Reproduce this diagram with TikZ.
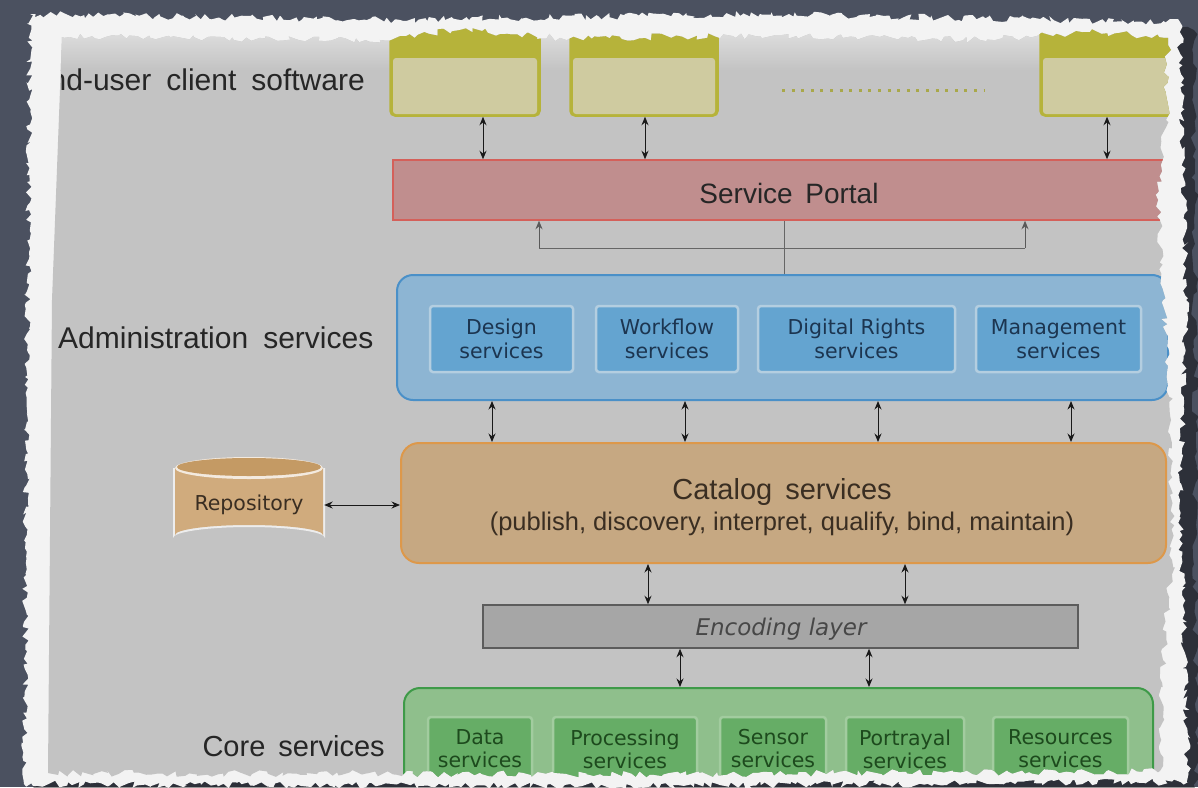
\documentclass[tikz,border=0pt]{standalone}
\usepackage{fontspec}
\setmainfont{Liberation Sans}
\newfontfamily\dvs{DejaVu Sans}
\usetikzlibrary{arrows.meta,decorations.pathmorphing}
\definecolor{bgdark}{HTML}{4B5160}
\definecolor{paperwhite}{HTML}{F3F3F3}
\definecolor{page}{HTML}{C3C3C3}
\definecolor{pagelight}{HTML}{E0E0E0}
\definecolor{olivec}{HTML}{B6B33A}
\definecolor{khaki}{HTML}{CFCBA0}
\definecolor{dotc}{HTML}{A9A84A}
\definecolor{portalfill}{HTML}{C08E8E}
\definecolor{portaldraw}{HTML}{D4605A}
\definecolor{admfill}{HTML}{8DB5D3}
\definecolor{admdraw}{HTML}{4A90C8}
\definecolor{admsubfill}{HTML}{64A4D0}
\definecolor{admring}{HTML}{B4CEE0}
\definecolor{admtext}{HTML}{1C3550}
\definecolor{catfill}{HTML}{C6A882}
\definecolor{catdraw}{HTML}{DD984A}
\definecolor{cattext}{HTML}{3A2E22}
\definecolor{repofill}{HTML}{D0AB7D}
\definecolor{repotop}{HTML}{C49A64}
\definecolor{encfill}{HTML}{A6A6A6}
\definecolor{encdraw}{HTML}{5C5C5C}
\definecolor{enctext}{HTML}{474747}
\definecolor{corefill}{HTML}{8FBF8C}
\definecolor{coredraw}{HTML}{3E9A48}
\definecolor{coresubfill}{HTML}{66AD66}
\definecolor{corering}{HTML}{A2CC9F}
\definecolor{coretext}{HTML}{1D4A1D}
\definecolor{textdark}{HTML}{262626}
\begin{document}
\begin{tikzpicture}[x=1pt,y=-1pt,
  lbl/.style={font=\fontsize{30}{30}\selectfont, text=textdark, inner sep=0pt},
  arr/.style={{Stealth[length=8.5pt,width=7pt]}-{Stealth[length=8.5pt,width=7pt]}, line width=0.9pt, draw=black!90},
  uparr/.style={-{Stealth[length=8.5pt,width=7pt]}, line width=0.9pt, draw=black!65},
  treeline/.style={line width=0.9pt, draw=black!60},
  client/.style={draw=olivec, fill=olivec, line width=1.5pt, rounded corners=5pt, minimum height=106pt, inner sep=0pt},
  clientin/.style={fill=khaki, rounded corners=3pt, minimum height=56pt, inner sep=0pt},
  admsub/.style={draw=admring, line width=2.5pt, fill=admsubfill, rounded corners=3pt, minimum height=66pt, inner sep=0pt, font=\dvs\fontsize{20.5}{24}\selectfont, text=admtext, align=center},
  coresub/.style={draw=corering, line width=2.5pt, fill=coresubfill, rounded corners=3pt, minimum height=64pt, inner sep=0pt, font=\dvs\fontsize{20.5}{23}\selectfont, text=coretext, align=center},
]
\useasboundingbox (0,0) rectangle (1198,787);
\fill[bgdark] (0,0) rectangle (1198,787);
% shadow of the paper
\pgfmathsetseed{11}
\fill[black,opacity=.4,decorate,decoration={random steps,segment length=7pt,amplitude=4pt}]
  (38,24) -- (1194,30) -- (1197,795) -- (34,795) -- cycle;
% torn white paper
\pgfmathsetseed{5}
\fill[paperwhite,decorate,decoration={random steps,segment length=4pt,amplitude=3.5pt}]
  (30,14) -- (400,20) -- (760,14) -- (1180,22) -- (1186,300) -- (1180,500) -- (1188,782) -- (600,786) -- (24,784) -- cycle;
\begin{scope}
\pgfmathsetseed{9}
\clip (48,773) -- (52,300) -- (62,37) decorate[decoration={random steps,segment length=5pt,amplitude=3.5pt}]{
   -- (380,40) -- (460,30) -- (560,38) -- (760,36) -- (980,40) -- (1090,32) -- (1168,38)
   -- (1166,120) -- (1158,200) -- (1163,300) -- (1171,420) -- (1172,560) -- (1163,660) -- (1160,771)
   -- (600,774) -- (48,773)} -- cycle;
\fill[page] (0,0) rectangle (1198,787);
\shade[top color=pagelight, bottom color=page] (0,28) rectangle (1198,70);

% ---------- end-user clients ----------
\node[lbl, anchor=east] (lclient) at (365,80) {End-user\hspace{0.5em}client\hspace{0.5em}software};
\node[client, minimum width=150pt] (c1) at (465,63) {};
\node[clientin, minimum width=144pt] (c1in) at (465,86) {};
\node[client, minimum width=148pt] (c2) at (644,63) {};
\node[clientin, minimum width=142pt] (c2in) at (644,86) {};
\node[client, minimum width=140pt] (c3) at (1110,63) {};
\node[clientin, minimum width=134pt] (c3in) at (1110,86) {};
\coordinate (dotsL) at (782,90);
\coordinate (dotsR) at (985,90);
\draw[dotc, line width=3pt, dash pattern=on 3pt off 6.6pt] (dotsL) -- (dotsR);

% ---------- service portal ----------
\node[draw=portaldraw, fill=portalfill, line width=1.5pt, minimum width=792pt, minimum height=60pt, inner sep=0pt] (sp) at (789,190) {};
\node[font=\fontsize{28}{28}\selectfont, text=textdark, inner sep=0pt] (spT) at (789,193) {Service\hspace{0.45em}Portal};

\coordinate (a1) at (483,0);
\coordinate (a2) at (645,0);
\coordinate (a3) at (1107,0);
\draw[arr] (c1.south -| a1) -- (sp.north -| a1);
\draw[arr] (c2.south -| a2) -- (sp.north -| a2);
\draw[arr] (c3.south -| a3) -- (sp.north -| a3);

% ---------- administration services ----------
\node[lbl, anchor=west] (ladm) at (58,338) {Administration\hspace{0.5em}services};
\node[draw=admdraw, fill=admfill, line width=2pt, rounded corners=16pt, minimum width=771pt, minimum height=125pt, inner sep=0pt] (ad) at (782.5,337.5) {};
\node[admsub, minimum width=143pt] (design) at (501.5,339) {Design\\services};
\node[admsub, minimum width=142pt] (workflow) at (667,339) {Workflow\\services};
\node[admsub, minimum width=197pt] (drights) at (856.5,339) {Digital Rights\\services};
\node[admsub, minimum width=165pt] (mgmt) at (1058.5,339) {Management\\services};

% tree between admin and portal
\coordinate (t0) at (784,248);
\coordinate (tL) at (539,248);
\coordinate (tR) at (1025,248);
\draw[treeline] (ad.north -| t0) -- (sp.south -| t0);
\draw[treeline] (tL) -- (tR);
\draw[uparr] (tL) -- (tL |- sp.south);
\draw[uparr] (tR) -- (tR |- sp.south);

% ---------- catalog ----------
\node[draw=catdraw, fill=catfill, line width=2pt, rounded corners=18pt, minimum width=765pt, minimum height=120pt, inner sep=0pt] (cat) at (783.5,503) {};
\node[font=\fontsize{29}{29}\selectfont, text=cattext, inner sep=0pt] (catT1) at (782,492) {Catalog\hspace{0.45em}services};
\node[font=\fontsize{25.5}{26}\selectfont, text=cattext, inner sep=0pt] (catT2) at (782,524) {(publish, discovery, interpret, qualify, bind, maintain)};

\foreach \x/\n in {492/b1,685/b2,878/b3,1071/b4}{
  \coordinate (\n) at (\x,0);
  \draw[arr] (ad.south -| \n) -- (cat.north -| \n);
}

% ---------- repository ----------
\fill[white!70!page] (173,468) -- (173,538) arc[start angle=180,end angle=360,x radius=76,y radius=11] -- (325,468) -- cycle;
\fill[repofill] (175,468) -- (175,535) arc[start angle=180,end angle=360,x radius=74,y radius=10] -- (323,468) -- cycle;
\fill[white!75!repofill] (249,468) ellipse[x radius=74,y radius=11];
\fill[repotop] (249,467) ellipse[x radius=72,y radius=9];
\node[font=\dvs\fontsize{20.5}{22}\selectfont, text=cattext, minimum width=150pt, minimum height=60pt, inner sep=0pt] (repo) at (249,505) {Repository};
\draw[arr] (repo.east) -- (repo.east -| cat.west);

% ---------- encoding layer ----------
\node[draw=encdraw, fill=encfill, line width=1.5pt, minimum width=595pt, minimum height=43pt, inner sep=0pt] (enc) at (780.5,626.5) {};
\node[font=\dvs\itshape\fontsize{23}{23}\selectfont, text=enctext, inner sep=0pt] (encT) at (781,629) {Encoding layer};
\coordinate (e1) at (648,0);
\coordinate (e2) at (905,0);
\draw[arr] (cat.south -| e1) -- (enc.north -| e1);
\draw[arr] (cat.south -| e2) -- (enc.north -| e2);

% ---------- core services ----------
\node[lbl, anchor=east, font=\fontsize{29}{29}\selectfont] (lcore) at (385,746) {Core\hspace{0.45em}services};
\node[draw=coredraw, fill=corefill, line width=2pt, rounded corners=16pt, minimum width=749pt, minimum height=116pt, inner sep=0pt] (core) at (778.5,746) {};
\node[coresub, minimum width=104pt] (data) at (480,749) {Data\\services};
\node[coresub, minimum width=144pt] (proc) at (625,749) {Processing\\services};
\node[coresub, minimum width=106pt] (sensor) at (773,749) {Sensor\\services};
\node[coresub, minimum width=118pt] (portr) at (905,749) {Portrayal\\services};
\node[coresub, minimum width=135pt] (res) at (1060.5,749) {Resources\\services};
\coordinate (f1) at (680,0);
\coordinate (f2) at (869,0);
\draw[arr] (enc.south -| f1) -- (core.north -| f1);
\draw[arr] (enc.south -| f2) -- (core.north -| f2);
\end{scope}
\end{tikzpicture}
\end{document}
